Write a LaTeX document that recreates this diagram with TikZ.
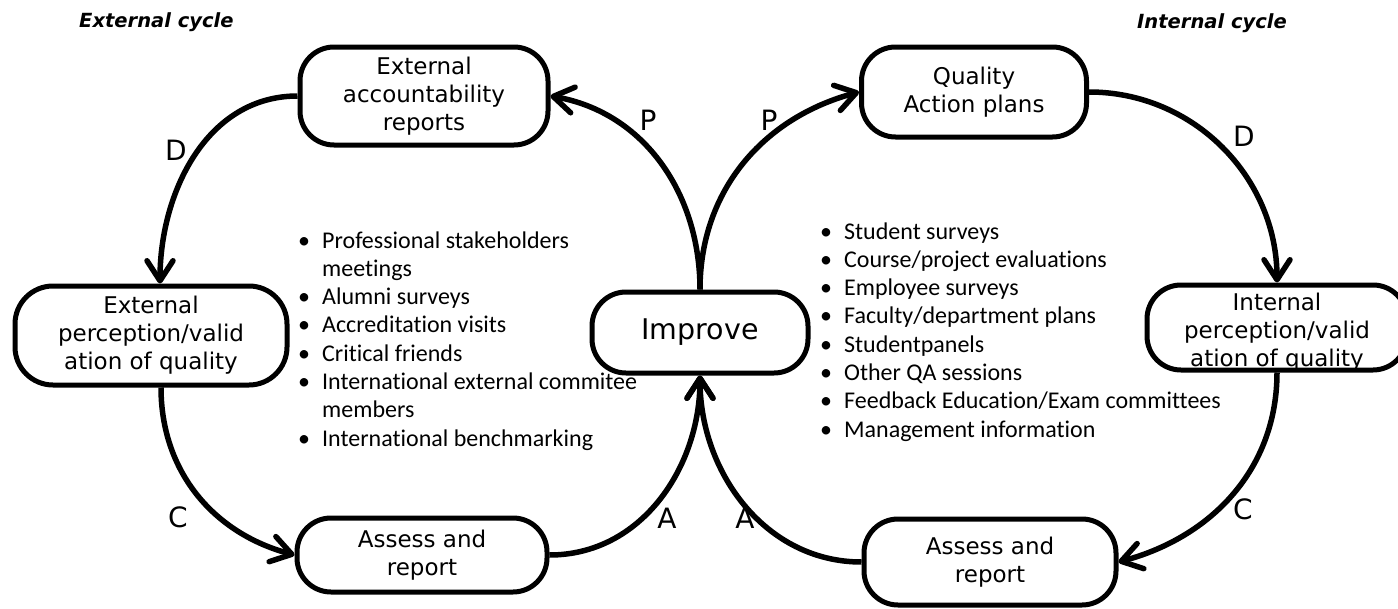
\documentclass[tikz,border=0pt]{standalone}
\usepackage{fontspec}
\usetikzlibrary{arrows.meta}
\newfontfamily\boxfont{DejaVu Sans}
\newfontfamily\listfont{Carlito}[Ligatures=NoCommon]
\newcommand\bul{\makebox[24pt][l]{\textbullet}}
\newcommand\nobul{\hspace*{24pt}}
\begin{document}
\begin{tikzpicture}[x=1pt,y=1pt,
  box/.style={draw, line width=5pt, rounded corners=34pt, align=center, inner sep=0pt,
    font=\boxfont\fontsize{23}{28}\selectfont},
  flow/.style={line width=5.5pt, -{Straight Barb[length=20pt,width=26pt,round]}},
  pdca/.style={font=\boxfont\fontsize{28}{30}\selectfont, inner sep=0pt},
  cycletitle/.style={font=\boxfont\bfseries\itshape\fontsize{19.5}{22}\selectfont, anchor=base west, inner sep=0pt},
  itemlist/.style={font=\listfont\fontsize{24}{28.3}\selectfont, anchor=base west, inner sep=0pt}]
\useasboundingbox (0,0) rectangle (1398,-608);
\node[cycletitle] (t1) at (79,-27) {External cycle};
\node[cycletitle] (t2) at (1137,-28) {Internal cycle};
\node[box, minimum width=248, minimum height=98] (acc) at (424,-96) {External\\accountability\\reports};
\node[box, minimum width=272, minimum height=99, rounded corners=38pt] (extp) at (151,-335.5) {External\\perception/valid\\ation of quality};
\node[box, minimum width=250, minimum height=74] (ass1) at (422,-555) {Assess and\\report};
\node[box, minimum width=216, minimum height=81, font=\boxfont\fontsize{28.5}{32}\selectfont] (imp) at (700,-332.5) {Improve};
\node[box, minimum width=225, minimum height=90] (qual) at (974,-92) {Quality\\Action plans};
\node[box, minimum width=260, minimum height=85] (intp) at (1277,-327.5) {\raisebox{-5pt}[\height][\depth]{\begin{tabular}{@{}c@{}}Internal\\perception/valid\\ation of quality\end{tabular}}};
\node[box, minimum width=252, minimum height=86] (ass2) at (990,-562) {Assess and\\report};
\draw[flow] (imp.north) to[out=90,in=-10] (acc.east);
\draw[flow] (acc.west) to[out=180,in=90] ([xshift=9pt]extp.north);
\draw[flow] ([xshift=10pt]extp.south) to[out=-90,in=165] (ass1.west);
\draw[flow] (ass1.east) to[out=0,in=-90] (imp.south);
\draw[flow] (imp.north) to[out=90,in=195] (qual.west);
\draw[flow] (qual.east) to[out=0,in=90] (intp.north);
\draw[flow] (intp.south) to[out=-90,in=15] (ass2.east);
\draw[flow] (ass2.west) to[out=180,in=-90] (imp.south);
\node[pdca] (p1) at (648,-120) {P};
\node[pdca] (p2) at (769,-120) {P};
\node[pdca] (d1) at (176,-150) {D};
\node[pdca] (d2) at (1244,-136) {D};
\node[pdca] (c1) at (178,-517) {C};
\node[pdca] (c2) at (1243,-509) {C};
\node[pdca] (a1) at (667,-518) {A};
\node[pdca] (a2) at (745,-518) {A};
\node[itemlist] (l1) at (298,-248) {\begin{tabular}[t]{@{}l@{}}
\bul Professional stakeholders\\
\nobul meetings\\
\bul Alumni surveys\\
\bul Accreditation visits\\
\bul Critical friends\\
\bul International external commitee\\
\nobul members\\
\bul International benchmarking
\end{tabular}};
\node[itemlist] (l2) at (820,-239) {\begin{tabular}[t]{@{}l@{}}
\bul Student surveys\\
\bul Course/project evaluations\\
\bul Employee surveys\\
\bul Faculty/department plans\\
\bul Studentpanels\\
\bul Other QA sessions\\
\bul Feedback Education/Exam committees\\
\bul Management information
\end{tabular}};
\end{tikzpicture}
\end{document}
